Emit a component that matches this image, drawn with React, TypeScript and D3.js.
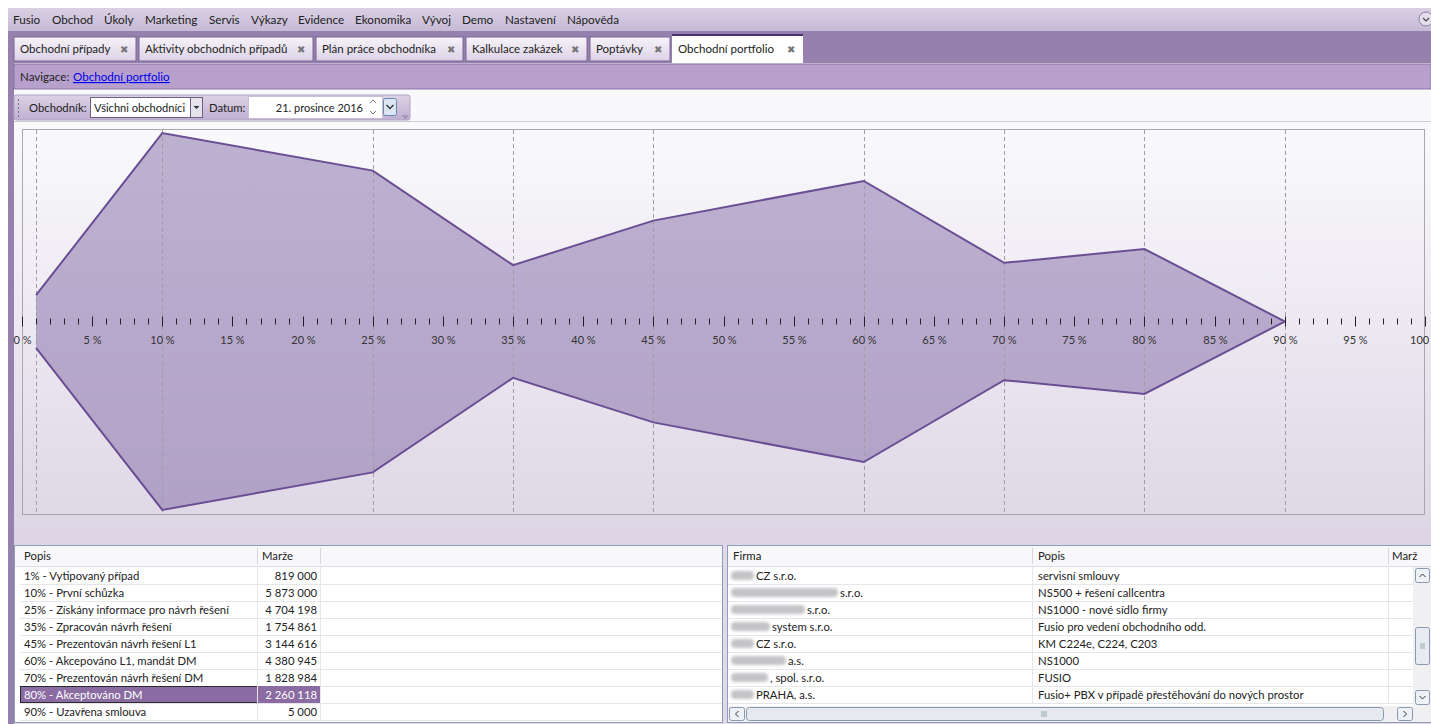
import React from "react";
import * as d3 from "d3";

// menu + tabs
const menuItems = ["Fusio", "Obchod", "Úkoly", "Marketing", "Servis", "Výkazy", "Evidence", "Ekonomika", "Vývoj", "Demo", "Nastavení", "Nápověda"];
const tabNames = ["Obchodní případy", "Aktivity obchodních případů", "Plán práce obchodníka", "Kalkulace zakázek", "Poptávky", "Obchodní portfolio"];

// portfolio stages (chart + left table)
const stageLabels = [
  "1% - Vytipovaný případ",
  "10% - První schůzka",
  "25% - Získány informace pro návrh řešení",
  "35% - Zpracován návrh řešení",
  "45% - Prezentován návrh řešení L1",
  "60% - Akcepováno L1, mandát DM",
  "70% - Prezentován návrh řešení DM",
  "80% - Akceptováno DM",
  "90% - Uzavřena smlouva",
];
const stageProb = [1, 10, 25, 35, 45, 60, 70, 80, 90];
const stageMargin = [819000, 5873000, 4704198, 1754861, 3144616, 4380945, 1828984, 2260118, 5000];
const selectedStage = 7;

// right table
const firmNames = ["CZ s.r.o.", "s.r.o.", "s.r.o.", "system s.r.o.", "CZ s.r.o.", "a.s.", ", spol. s.r.o.", "PRAHA, a.s."];
const firmProjects = [
  "servisní smlouvy",
  "NS500 + řešení callcentra",
  "NS1000 - nové sídlo firmy",
  "Fusio pro vedení obchodního odd.",
  "KM C224e, C224, C203",
  "NS1000",
  "FUSIO",
  "Fusio+ PBX v případě přestěhování do nových prostor",
];

const W = 1431;
const H = 724;
const FONT = "Lato, 'Noto Sans', sans-serif";

const fmt = (v: number) => d3.format(",")(v).replace(/,/g, " ");

export default function App() {
  const x = d3.scaleLinear().domain([0, 100]).range([22, 1425]);
  const y = d3.scaleLinear().domain([-6000000, 6000000]).range([514, 129]);
  const pts = stageProb.map((p, i) => ({ p, v: stageMargin[i] }));

  const area = d3.area<{ p: number; v: number }>()
    .x(d => x(d.p)).y0(d => y(-d.v)).y1(d => y(d.v));
  const upper = d3.line<{ p: number; v: number }>().x(d => x(d.p)).y(d => y(d.v));
  const lower = d3.line<{ p: number; v: number }>().x(d => x(d.p)).y(d => y(-d.v));
  const y0 = y(0);
  const ticks = d3.range(0, 101);

  const menuX = [13, 52, 104, 145, 209, 251, 298, 355, 422, 462, 505, 567];
  const tabX = [14, 139, 316, 466, 590, 672];
  const tabR = [136, 313, 463, 587, 670, 803];
  const rowH = 17;
  const rowTop = 567;
  const blobW = [23, 107, 74, 39, 23, 55, 37, 23];
  const tblFont = 11.3;

  return (
    <svg width={W} height={H} style={{ position: "absolute", left: 0, top: 0, display: "block" }} fontFamily={FONT}>
      <defs>
        <linearGradient id="menuG" x1="0" y1="0" x2="0" y2="1">
          <stop offset="0" stopColor="#d9d1e3" />
          <stop offset="1" stopColor="#c6b9d5" />
        </linearGradient>
        <linearGradient id="tabG" x1="0" y1="0" x2="0" y2="1">
          <stop offset="0" stopColor="#f6f3f8" />
          <stop offset="1" stopColor="#dcd2e6" />
        </linearGradient>
        <linearGradient id="toolG" x1="0" y1="0" x2="0" y2="1">
          <stop offset="0" stopColor="#dcd3e5" />
          <stop offset="1" stopColor="#bfafd1" />
        </linearGradient>
        <linearGradient id="panelG" x1="0" y1="0" x2="0" y2="1">
          <stop offset="0" stopColor="#fafafc" />
          <stop offset="1" stopColor="#ddd5e5" />
        </linearGradient>
        <filter id="blurF" x="-20%" y="-50%" width="140%" height="200%">
          <feGaussianBlur stdDeviation="1.6" />
        </filter>
      </defs>

      <rect width={W} height={H} fill="#ffffff" />

      {/* menu bar */}
      <rect x={8} y={8} width={W - 8} height={23} fill="url(#menuG)" />
      {menuItems.map((m, i) => (
        <text key={m} x={menuX[i]} y={24} fontSize={11.7} fill="#222">{m}</text>
      ))}
      <circle cx={1426} cy={19} r={7} fill="#e4dfea" stroke="#8a7ea0" />
      <path d="M1423,18 l3,3 l3,-3" fill="none" stroke="#444" strokeWidth={1.2} />

      {/* tab bar */}
      <rect x={8} y={31} width={W - 8} height={32} fill="#9680ae" />
      {tabNames.map((t, i) => {
        const active = i === tabNames.length - 1;
        return (
          <g key={t}>
            <rect x={tabX[i]} y={active ? 35 : 37} width={tabR[i] - tabX[i]} height={active ? 28 : 24}
              fill={active ? "#ffffff" : "url(#tabG)"} stroke={active ? "none" : "#7a6496"} />
            {active && <rect x={tabX[i]} y={34} width={tabR[i] - tabX[i]} height={2} fill="#4b2f70" />}
            <text x={tabX[i] + 6} y={53} fontSize={11.5} fill="#222">{t}</text>
            <text x={tabR[i] - 16} y={53} fontSize={10} fill="#777">✖</text>
          </g>
        );
      })}

      {/* left frame strip */}
      <rect x={8} y={62} width={6} height={H - 62} fill="#9680ae" />

      {/* navigation */}
      <rect x={14} y={63} width={W - 14} height={1} fill="#f4f0f7" />
      <rect x={14} y={64} width={W - 14} height={25} fill="#b8a0cc" stroke="#8a70a6" />
      <text x={20} y={81} fontSize={11.6} fill="#222">Navigace:</text>
      <text x={73} y={81} fontSize={11.6} fill="#0000ee" textDecoration="underline">Obchodní portfolio</text>

      {/* content background */}
      <rect x={14} y={90} width={W - 14} height={H - 90} fill="#f9f9fb" />

      {/* toolbar */}
      <rect x={14} y={95} width={396} height={25} rx={2} fill="url(#toolG)" stroke="#b2a3c4" />
      {d3.range(5).map(k => <rect key={k} x={18} y={99 + k * 4} width={1} height={2} fill="#7a6d8c" />)}
      <text x={29} y={112} fontSize={11.3} fill="#222">Obchodník:</text>
      <rect x={90.5} y={97.5} width={112} height={20} fill="#ffffff" stroke="#6e5f85" />
      <text x={94} y={112} fontSize={11.1} fill="#222">Všichni obchodníci</text>
      <rect x={190.5} y={97.5} width={12} height={20} fill="#e6e2ec" stroke="#6e5f85" />
      <path d="M193.5,106 h6 l-3,3 z" fill="#333" />
      <text x={209} y={112} fontSize={11.3} fill="#222">Datum:</text>
      <rect x={248.5} y={96.5} width={134} height={22} fill="#ffffff" stroke="#c8c0d2" />
      <text x={363} y={112} fontSize={11} fill="#222" textAnchor="end">21. prosince 2016</text>
      <path d="M370,103 l3,-3 l3,3 M370,111 l3,3 l3,-3" fill="none" stroke="#777" />
      <rect x={383.5} y={98.5} width={13} height={17} rx={2} fill="#dbe6f4" stroke="#6c86b0" />
      <path d="M386.5,105 l3.5,3.5 l3.5,-3.5" fill="none" stroke="#333" strokeWidth={1.3} />
      <path d="M402,116 h6 M404,118 h3" stroke="#8a7ea0" />

      {/* chart panel */}
      <rect x={14} y={121} width={W - 14} height={424} fill="url(#panelG)" />
      <line x1={14} x2={W} y1={121.5} y2={121.5} stroke="#cfcad6" />
      <rect x={22.5} y={129.5} width={1402} height={385} fill="none" stroke="#a9a6ad" />

      <path d={area(pts) ?? ""} fill="#816aa5" fillOpacity={0.5} />
      {stageProb.map(p => (
        <line key={p} x1={Math.round(x(p)) + 0.5} x2={Math.round(x(p)) + 0.5} y1={130} y2={514}
          stroke="#a09ca6" strokeDasharray="4,3" />
      ))}
      <path d={upper(pts) ?? ""} fill="none" stroke="#6a4e94" strokeWidth={2} />
      <path d={lower(pts) ?? ""} fill="none" stroke="#6a4e94" strokeWidth={2} />

      {ticks.map(t => {
        const major = t % 5 === 0;
        const tx = Math.round(x(t)) + 0.5;
        return (
          <g key={t}>
            <line x1={tx} x2={tx} y1={major ? y0 - 5 : y0 - 3} y2={major ? y0 + 5 : y0 + 3} stroke="#222" />
            {major && (
              <text x={tx} y={y0 + 22} fontSize={11} fill="#333" textAnchor="middle">{`${t} %`}</text>
            )}
          </g>
        );
      })}

      {/* bottom tables */}
      <rect x={14} y={545} width={W - 14} height={H - 545} fill="#e1d9e9" />
      <rect x={14.5} y={545.5} width={708} height={177} fill="#ffffff" stroke="#8e9db8" />
      <rect x={15} y={546} width={707} height={20} fill="#f8f8fb" />
      <line x1={15} x2={722} y1={566.5} y2={566.5} stroke="#dcdce4" />
      <text x={24} y={560} fontSize={tblFont} fill="#222">Popis</text>
      <text x={262} y={560} fontSize={tblFont} fill="#222">Marže</text>
      <line x1={257.5} x2={257.5} y1={548} y2={564} stroke="#d6d6de" />
      <line x1={320.5} x2={320.5} y1={548} y2={564} stroke="#d6d6de" />
      {stageLabels.map((s, i) => {
        const top = rowTop + i * rowH;
        const sel = i === selectedStage;
        return (
          <g key={s}>
            {sel && <rect x={20.5} y={top + 0.5} width={237} height={rowH - 1} fill="#8a6ca3" stroke="#2a2a2a" />}
            {sel && <rect x={258} y={top} width={62} height={rowH} fill="#8a6ca3" />}
            <line x1={20} x2={722} y1={top + rowH + 0.5} y2={top + rowH + 0.5} stroke="#e6e6ea" />
            <line x1={257.5} x2={257.5} y1={top} y2={top + rowH} stroke="#e6e6ea" />
            <line x1={320.5} x2={320.5} y1={top} y2={top + rowH} stroke="#e6e6ea" />
            <text x={24} y={top + 13} fontSize={tblFont} fill={sel ? "#ffffff" : "#222"}>{s}</text>
            <text x={317} y={top + 13} fontSize={tblFont} fill={sel ? "#ffffff" : "#222"} textAnchor="end">{fmt(stageMargin[i])}</text>
          </g>
        );
      })}

      <rect x={727.5} y={545.5} width={703} height={177} fill="#ffffff" stroke="#8e9db8" />
      <rect x={728} y={546} width={703} height={20} fill="#f8f8fb" />
      <line x1={728} x2={W} y1={566.5} y2={566.5} stroke="#dcdce4" />
      <text x={733} y={560} fontSize={11.4} fill="#222">Firma</text>
      <text x={1038} y={560} fontSize={11.4} fill="#222">Popis</text>
      <text x={1392} y={560} fontSize={11.4} fill="#222">Marž</text>
      <line x1={1032.5} x2={1032.5} y1={548} y2={564} stroke="#d6d6de" />
      <line x1={1388.5} x2={1388.5} y1={548} y2={564} stroke="#d6d6de" />
      {firmNames.map((f, i) => {
        const top = rowTop + i * rowH;
        return (
          <g key={i}>
            <line x1={728} x2={1413} y1={top + rowH + 0.5} y2={top + rowH + 0.5} stroke="#e6e6ea" />
            <line x1={1032.5} x2={1032.5} y1={top} y2={top + rowH} stroke="#e6e6ea" />
            <line x1={1388.5} x2={1388.5} y1={top} y2={top + rowH} stroke="#e6e6ea" />
            <rect x={731} y={top + 4} width={blobW[i]} height={9} rx={4} fill="#c4c4c8" filter="url(#blurF)" />
            <text x={731 + blobW[i] + 2} y={top + 13} fontSize={11.3} fill="#222">{f}</text>
            <text x={1038} y={top + 13} fontSize={11.3} fill="#222">{firmProjects[i]}</text>
          </g>
        );
      })}
      {/* scrollbars */}
      <rect x={1413} y={567} width={18} height={139} fill="#f0f0f2" />
      <rect x={1415.5} y={568.5} width={14} height={14} rx={2} fill="#eef1f6" stroke="#8a98b0" />
      <path d="M1419.5,577 l3,-3 l3,3" fill="none" stroke="#333" />
      <rect x={1415.5} y={627.5} width={14} height={37} rx={2} fill="#e8ecf2" stroke="#8a98b0" />
      <path d="M1420,644 h5 M1420,646 h5 M1420,648 h5" stroke="#9aa" />
      <rect x={1415.5} y={690.5} width={14} height={14} rx={2} fill="#eef1f6" stroke="#8a98b0" />
      <path d="M1419.5,696 l3,3 l3,-3" fill="none" stroke="#333" />
      <rect x={728} y={706} width={703} height={16} fill="#f0f0f2" />
      <rect x={729.5} y={707.5} width={15} height={13} rx={2} fill="#eef1f6" stroke="#8a98b0" />
      <path d="M738.5,711 l-3,3 l3,3" fill="none" stroke="#333" />
      <rect x={746.5} y={707.5} width={637} height={13} rx={3} fill="#e6eaf0" stroke="#8a98b0" />
      <path d="M1042,711 v6 M1044,711 v6 M1046,711 v6" stroke="#9aa" />
      <rect x={1397.5} y={707.5} width={15} height={13} rx={2} fill="#eef1f6" stroke="#8a98b0" />
      <path d="M1403.5,711 l3,3 l-3,3" fill="none" stroke="#333" />
    </svg>
  );
}
